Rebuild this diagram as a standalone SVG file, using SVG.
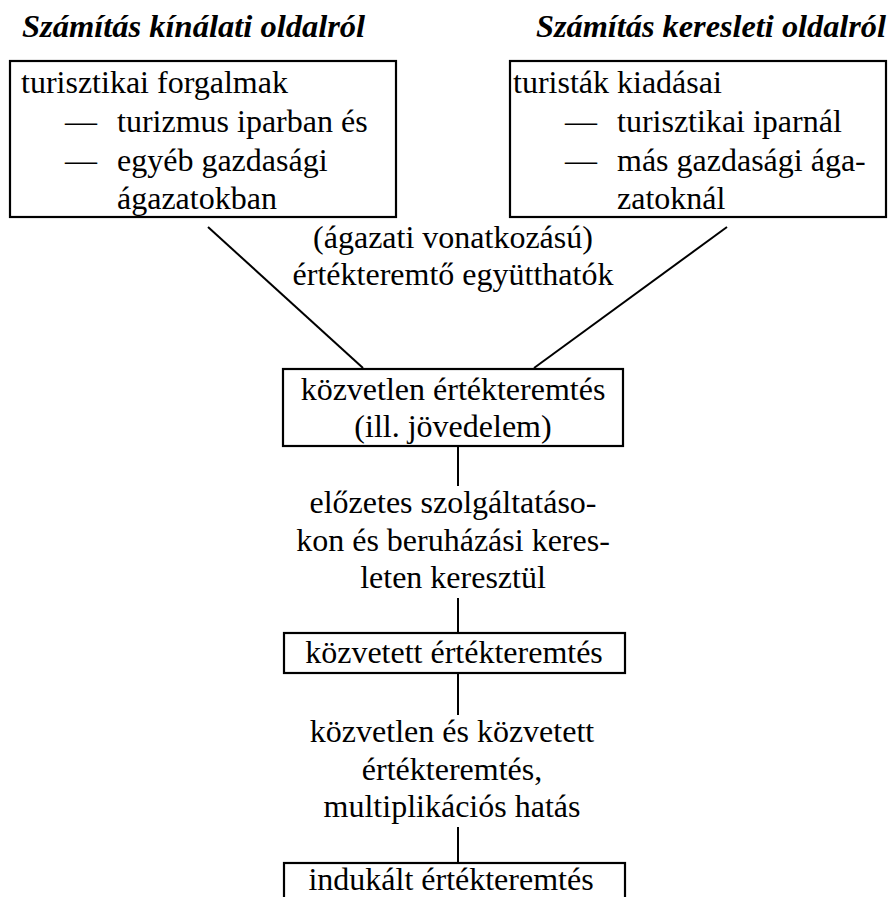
<svg xmlns="http://www.w3.org/2000/svg" width="889" height="897" viewBox="0 0 889 897">
  <style>
    .box { fill: #ffffff; stroke: #000000; stroke-width: 2.2; }
    .link { stroke: #000000; stroke-width: 2; fill: none; }
    text { font-family: 'Liberation Serif', 'Times New Roman', serif; font-size: 32px; fill: #000000; }
    .title { font-weight: bold; font-style: italic; font-size: 32.5px; }
    .c { text-anchor: middle; }
  </style>
  <rect width="889" height="897" fill="#ffffff"/>

  <!-- column headings -->
  <text class="title" x="22" y="37">Számítás kínálati oldalról</text>
  <text class="title" x="886" y="37" text-anchor="end" textLength="350" lengthAdjust="spacingAndGlyphs">Számítás keresleti oldalról</text>

  <!-- connectors -->
  <g id="connectors">
    <line class="link" x1="208" y1="227" x2="363" y2="368"/>
    <line class="link" x1="727" y1="227" x2="534" y2="368"/>
    <line class="link" x1="458" y1="446" x2="458" y2="486"/>
    <line class="link" x1="458" y1="598" x2="458" y2="633"/>
    <line class="link" x1="458" y1="673" x2="458" y2="715"/>
    <line class="link" x1="458" y1="827" x2="458" y2="863"/>
  </g>

  <!-- supply side -->
  <g id="supply">
    <rect class="box" x="10" y="61" width="386" height="156"/>
    <text x="21" y="93">turisztikai forgalmak</text>
    <text x="65" y="132">—</text>
    <text x="117" y="132">turizmus iparban és</text>
    <text x="65" y="171">—</text>
    <text x="117" y="171">egyéb gazdasági</text>
    <text x="117" y="209">ágazatokban</text>
  </g>

  <!-- demand side -->
  <g id="demand">
    <rect class="box" x="510" y="61" width="376" height="156"/>
    <text x="513" y="93">turisták kiadásai</text>
    <text x="565" y="132">—</text>
    <text x="617" y="132">turisztikai iparnál</text>
    <text x="565" y="171">—</text>
    <text x="617" y="171">más gazdasági ága-</text>
    <text x="617" y="209">zatoknál</text>
  </g>

  <!-- coefficient label -->
  <g id="coefficients">
    <text class="c" x="453" y="248">(ágazati vonatkozású)</text>
    <text class="c" x="453" y="285">értékteremtő együtthatók</text>
  </g>

  <!-- direct value creation -->
  <g id="direct">
    <rect class="box" x="283" y="369" width="340" height="77"/>
    <text class="c" x="453" y="400">közvetlen értékteremtés</text>
    <text class="c" x="453" y="437">(ill. jövedelem)</text>
  </g>

  <!-- intermediate label -->
  <g id="via-services">
    <text class="c" x="453" y="513">előzetes szolgáltatáso-</text>
    <text class="c" x="453" y="551">kon és beruházási keres-</text>
    <text class="c" x="453" y="588">leten keresztül</text>
  </g>

  <!-- indirect value creation -->
  <g id="indirect">
    <rect class="box" x="284" y="633" width="341" height="40"/>
    <text class="c" x="454" y="663">közvetett értékteremtés</text>
  </g>

  <!-- multiplier label -->
  <g id="multiplier">
    <text class="c" x="452" y="742">közvetlen és közvetett</text>
    <text class="c" x="452" y="780">értékteremtés,</text>
    <text class="c" x="452" y="817">multiplikációs hatás</text>
  </g>

  <!-- induced value creation (box continues below the bottom edge) -->
  <g id="induced">
    <rect class="box" x="284" y="863" width="341" height="60"/>
    <text class="c" x="451" y="890">indukált értékteremtés</text>
  </g>
</svg>
